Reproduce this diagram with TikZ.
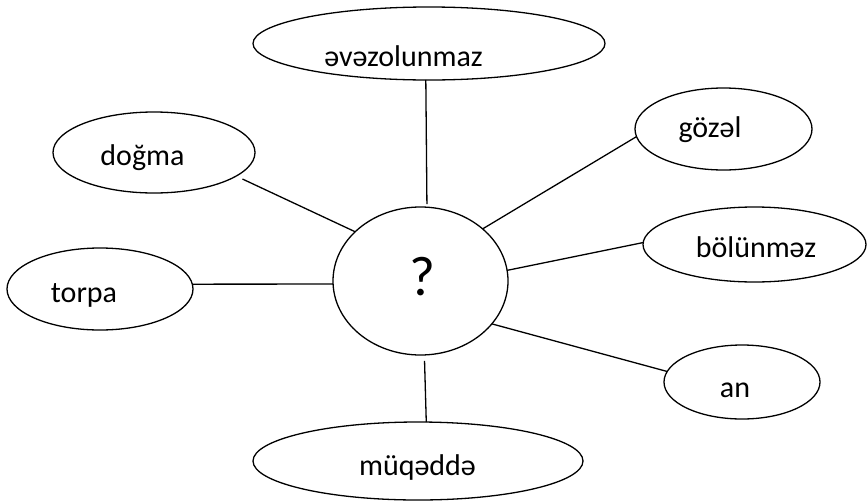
\documentclass[tikz,border=0pt]{standalone}
\usepackage{fontspec}
\setmainfont{Carlito}
\usetikzlibrary{shapes.geometric}
\tikzset{
  oval/.style={draw, ellipse, inner sep=0pt, outer sep=0pt, line width=1.3pt},
  lbl/.style={inner sep=0pt, anchor=base, font=\fontsize{30}{36}\selectfont},
  qlbl/.style={inner sep=0pt, anchor=base, font=\fontsize{56}{64}\selectfont},
  link/.style={line width=1.3pt}
}
\begin{document}
\begin{tikzpicture}[x=1pt, y=-1pt]
\useasboundingbox (0,0) rectangle (867,501);
% ellipses
\node[oval, minimum width=352pt, minimum height=73pt] (top) at (429,43.5) {};
\node[oval, minimum width=202pt, minimum height=81pt] (dog) at (154,152.5) {};
\node[oval, minimum width=186pt, minimum height=82pt] (tor) at (100,289) {};
\node[oval, minimum width=177pt, minimum height=82pt] (goz) at (723.5,129) {};
\node[oval, minimum width=223pt, minimum height=75pt] (bol) at (754.5,244.5) {};
\node[oval, minimum width=175pt, minimum height=148pt] (cen) at (420.5,281) {};
\node[oval, minimum width=156pt, minimum height=74pt] (an) at (742,382) {};
\node[oval, minimum width=330pt, minimum height=78pt] (muq) at (418,461) {};
% labels
\node[lbl] (ttop) at (403.5,66) {əvəzolunmaz};
\node[lbl] (tdog) at (142.5,165) {doğma};
\node[lbl] (ttor) at (84,302) {torpa};
\node[lbl] (tgoz) at (710,137) {gözəl};
\node[lbl] (tbol) at (756,257) {bölünməz};
\node[lbl] (tan) at (735,397) {an};
\node[lbl] (tmuq) at (417.5,475) {müqəddə};
\node[qlbl] (tq) at (422.5,295) {?};
% connectors
\draw[link, shorten >=3pt] (top.265.4) -- (cen.85.9);
\draw[link, shorten <=7pt] (dog.344) -- (cen.143.2);
\draw[link] (tor.3.1) -- (cen.182);
\draw[link] (goz.185.2) -- (cen.40.3);
\draw[link] (bol.179.7) -- (cen.7.2);
\draw[link] (an.172.4) -- (cen.329.4);
\draw[link, shorten >=6pt] (muq.78.7) -- (cen.273.9);
\end{tikzpicture}
\end{document}
